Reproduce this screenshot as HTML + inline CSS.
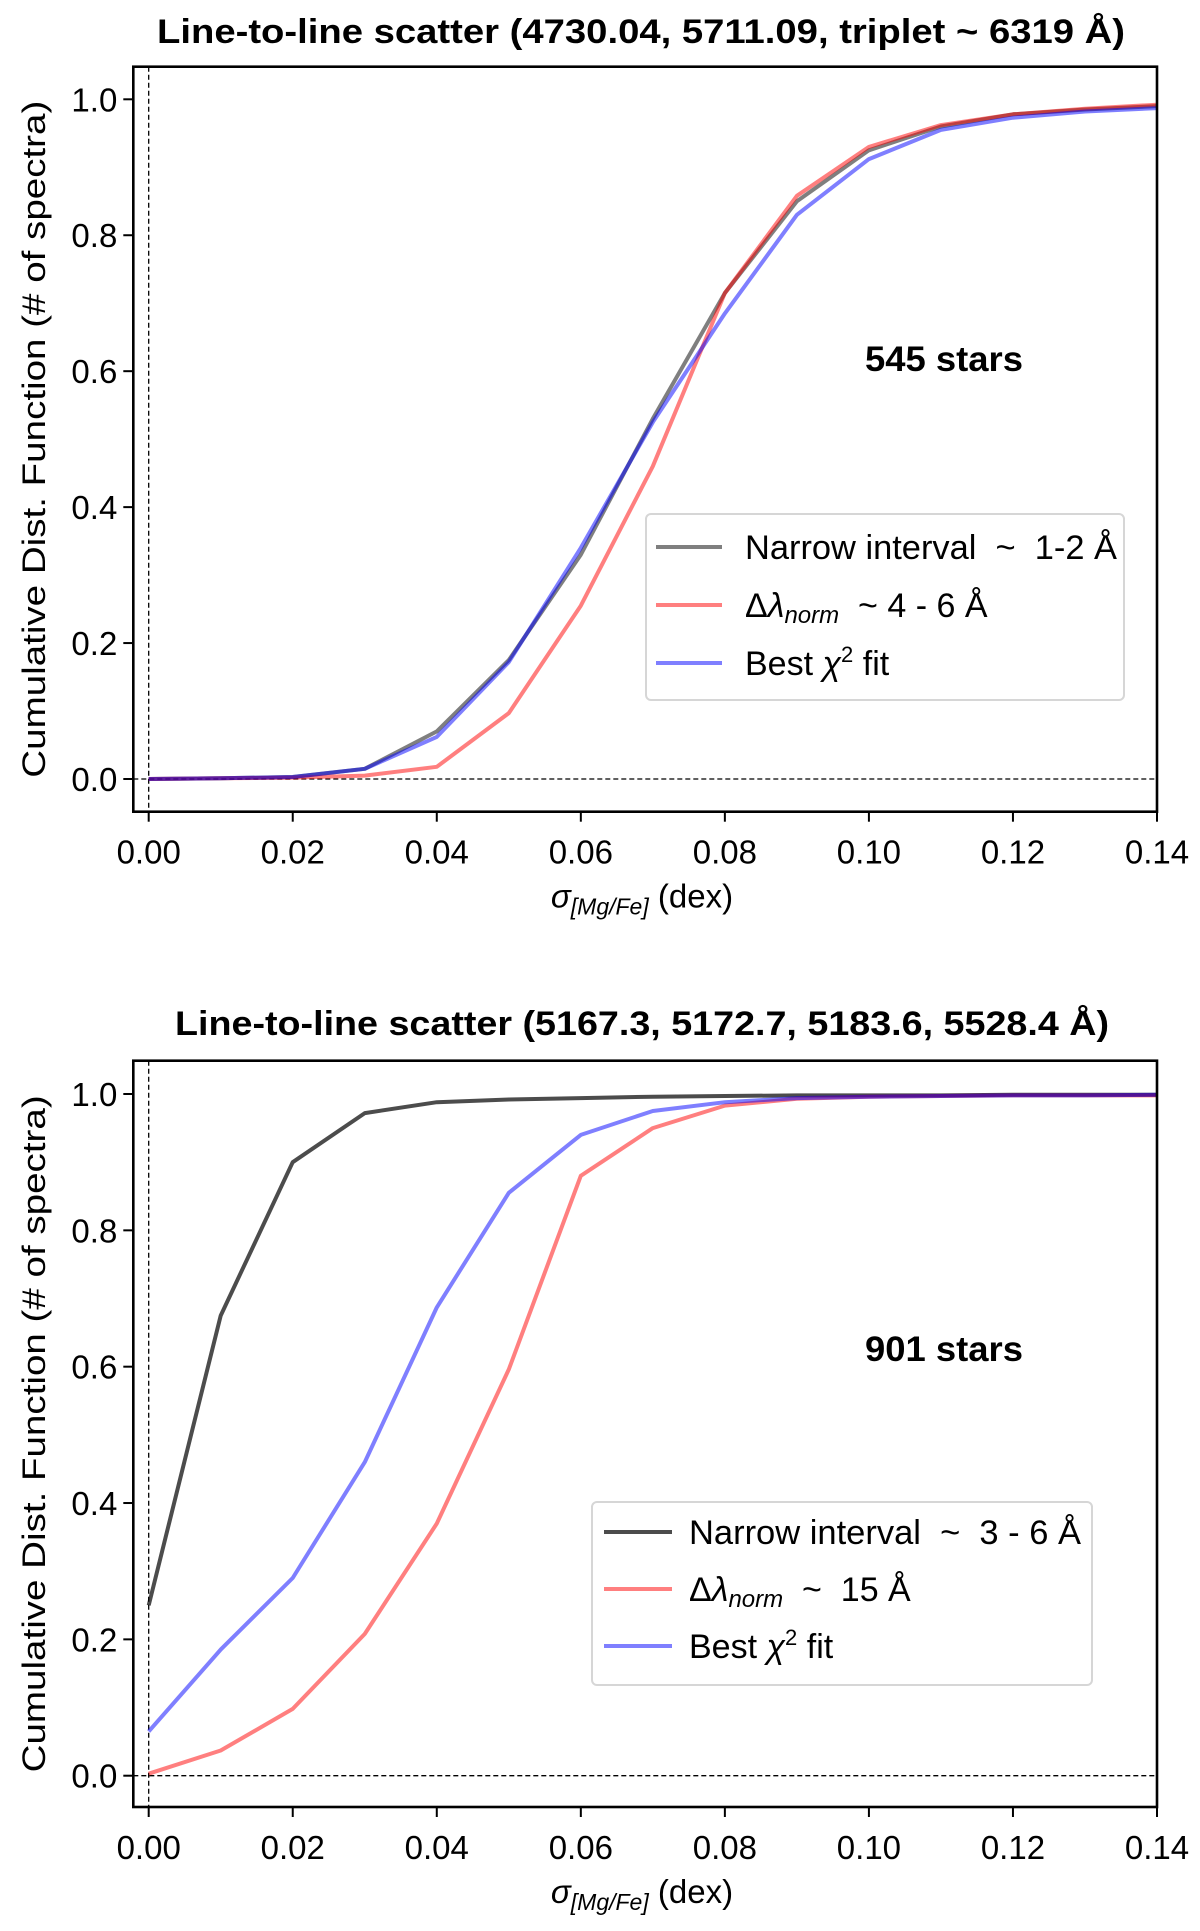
<!DOCTYPE html>
<html><head><meta charset="utf-8">
<style>
html,body{margin:0;padding:0;background:#fff;}
svg{display:block;}
text{font-family:"Liberation Sans","DejaVu Sans",sans-serif;fill:#000;}
</style></head>
<body>
<svg id="fig" width="1200" height="1931" viewBox="0 0 1200 1931" xmlns="http://www.w3.org/2000/svg"></svg>
<script>
const xValues = [0,0.01,0.02,0.03,0.04,0.05,0.06,0.07,0.08,0.09,0.10,0.11,0.12,0.13,0.14];
const xTicks = [0,0.02,0.04,0.06,0.08,0.10,0.12,0.14];
const xTickLabels = ["0.00","0.02","0.04","0.06","0.08","0.10","0.12","0.14"];
const yTicks = [0,0.2,0.4,0.6,0.8,1.0];
const yTickLabels = ["0.0","0.2","0.4","0.6","0.8","1.0"];
const topNarrow = [0,0.001,0.003,0.015,0.07,0.175,0.33,0.53,0.715,0.85,0.925,0.96,0.978,0.985,0.99];
const topNorm = [0,0.001,0.002,0.005,0.018,0.097,0.255,0.46,0.715,0.858,0.93,0.962,0.978,0.986,0.992];
const topBest = [0,0.001,0.003,0.015,0.062,0.172,0.34,0.525,0.685,0.83,0.912,0.955,0.973,0.982,0.987];
const botNarrow = [0.25,0.675,0.9,0.972,0.988,0.992,0.994,0.996,0.997,0.998,0.998,0.998,0.999,0.999,0.999];
const botNorm = [0.003,0.037,0.098,0.208,0.37,0.596,0.88,0.95,0.983,0.993,0.996,0.997,0.998,0.998,0.998];
const botBest = [0.065,0.185,0.29,0.46,0.687,0.855,0.94,0.975,0.988,0.994,0.996,0.997,0.998,0.998,0.999];

const NS="http://www.w3.org/2000/svg";
const svg=document.getElementById('fig');
function mk(tag,attrs,parent,txt){const e=document.createElementNS(NS,tag);for(const k in attrs)e.setAttribute(k,attrs[k]);if(txt!==undefined)e.textContent=txt;(parent||svg).appendChild(e);return e;}

function panel(cfg){
  const g=mk('g',{});
  
  
  const L=133.3,R=1157,T=cfg.top,B=cfg.bottom;
  const x0=148.7,x1=1157;
  const X=v=>x0+(x1-x0)*v/0.14;
  const Y=v=>cfg.y0+(cfg.y1-cfg.y0)*v;
  const t=mk('text',{x:(cfg.titleL+cfg.titleR)/2,y:cfg.titleY,'text-anchor':'middle','font-weight':'bold','font-size':34,textLength:cfg.titleR-cfg.titleL,lengthAdjust:'spacingAndGlyphs'},g,cfg.title);
  
  
  const hz=mk('line',{x1:L,x2:R,y1:Y(0),y2:Y(0),stroke:'#000','stroke-width':1.3,'stroke-dasharray':'5,3'},g);
  
  
  const vz=mk('line',{x1:X(0),x2:X(0),y1:T,y2:B,stroke:'#000','stroke-width':1.3,'stroke-dasharray':'5,3'},g);
  
  
  cfg.series.forEach(s=>{
    const pts=xValues.map((xv,i)=>X(xv).toFixed(1)+','+Y(s.vals[i]).toFixed(1)).join(' ');
    const pl=mk('polyline',{points:pts,fill:'none',stroke:s.color,'stroke-opacity':s.op,'stroke-width':4,'stroke-linejoin':'round'},g);
    
    
  });
  const fr=mk('rect',{x:L,y:T,width:R-L,height:B-T,fill:'none',stroke:'#000','stroke-width':2.6},g);
  
  
  xTicks.forEach((v,i)=>{
    mk('line',{x1:X(v),x2:X(v),y1:B,y2:B+10,stroke:'#000','stroke-width':2},g);
    const tl=mk('text',{x:X(v),y:B+52,'text-anchor':'middle','font-size':33},g,xTickLabels[i]);
    
    
  });
  yTicks.forEach((v,i)=>{
    mk('line',{x1:L-10,x2:L,y1:Y(v),y2:Y(v),stroke:'#000','stroke-width':2},g);
    const tl=mk('text',{x:L-16,y:Y(v)+12,'text-anchor':'end','font-size':33},g,yTickLabels[i]);
    
    
  });
  const xl=mk('text',{x:642,y:B+96,'text-anchor':'middle','font-size':33},g);
  
  
  mk('tspan',{'font-style':'italic'},xl,'σ');
  mk('tspan',{'font-style':'italic','font-size':23,dy:7},xl,'[Mg/Fe]');
  mk('tspan',{dy:-7},xl,' (dex)');
  const yc=(T+B)/2;
  const yl=mk('text',{x:0,y:0,'text-anchor':'middle','font-size':32,transform:`translate(45,${yc}) rotate(-90)`,textLength:677,lengthAdjust:'spacingAndGlyphs','font-family':'DejaVu Sans, sans-serif'},g,'Cumulative Dist. Function (# of spectra)');
  
  
  const st=mk('text',{x:944,y:cfg.starsY+12,'text-anchor':'middle','font-size':35,'font-weight':'bold',textLength:158,lengthAdjust:'spacingAndGlyphs'},g,cfg.stars);
  
  
  const lg=cfg.legend;
  const lgG=mk('g',{},g);
  
  
  mk('rect',{x:lg.x,y:lg.y,width:lg.w,height:lg.h,rx:5,fill:'#fff','fill-opacity':0.85,stroke:'#d6d6d6','stroke-width':2},lgG);
  cfg.series.forEach((s,i)=>{
    const ry=lg.rows[i];
    const e=mk('g',{},lgG);
    
    
    mk('line',{x1:lg.lx1,x2:lg.lx2,y1:ry,y2:ry,stroke:s.color,'stroke-opacity':s.op,'stroke-width':4},e);
    const tx=mk('text',{x:lg.tx,y:ry+12,'font-size':34,'xml:space':'preserve'},e);
    tx.setAttribute('style','white-space:pre');
    s.label(tx,s.lw);
  });
}
function plain(str){return (tx,w)=>{tx.textContent=str;if(w){tx.setAttribute('textLength',w);tx.setAttribute('lengthAdjust','spacingAndGlyphs');}};}
function normLabel(rest){return (tx)=>{mk('tspan',{},tx,'Δ');mk('tspan',{'font-style':'italic'},tx,'λ');mk('tspan',{'font-style':'italic','font-size':24,dy:6},tx,'norm');mk('tspan',{dy:-6},tx,rest);};}
function bestLabel(){return (tx)=>{mk('tspan',{},tx,'Best ');mk('tspan',{'font-style':'italic'},tx,'χ');mk('tspan',{'font-size':22,dy:-13},tx,'2');mk('tspan',{dy:13},tx,' fit');};}

panel({name:'top-panel',top:66.7,bottom:811.7,y0:779,y1:99.3,
  title:'Line-to-line scatter (4730.04, 5711.09, triplet  ~  6319 Å)',titleL:157,titleR:1125,titleY:43,
  stars:'545 stars',starsY:359,
  legend:{x:646,y:514,w:478,h:186,rows:[547,605,663],lx1:656,lx2:722,tx:745},
  series:[
    {name:'narrow-interval-line',vals:topNarrow,color:'#000',op:0.5,label:plain('Narrow interval  ~  1-2 Å'),lw:372},
    {name:'norm-line',vals:topNorm,color:'#ff0000',op:0.5,label:normLabel('  ~ 4 - 6 Å')},
    {name:'best-chi2-line',vals:topBest,color:'#0000ff',op:0.5,label:bestLabel()}
  ]});
panel({name:'bottom-panel',top:1060.7,bottom:1807,y0:1775.7,y1:1094,
  title:'Line-to-line scatter (5167.3, 5172.7, 5183.6, 5528.4 Å)',titleL:175,titleR:1109,titleY:1035,
  stars:'901 stars',starsY:1349,
  legend:{x:592,y:1502,w:500,h:183,rows:[1532,1589,1646],lx1:604,lx2:672,tx:689},
  series:[
    {name:'narrow-interval-line',vals:botNarrow,color:'#000',op:0.7,label:plain('Narrow interval  ~  3 - 6 Å'),lw:392},
    {name:'norm-line',vals:botNorm,color:'#ff0000',op:0.5,label:normLabel('  ~  15 Å')},
    {name:'best-chi2-line',vals:botBest,color:'#0000ff',op:0.5,label:bestLabel()}
  ]});
</script>
</body></html>
